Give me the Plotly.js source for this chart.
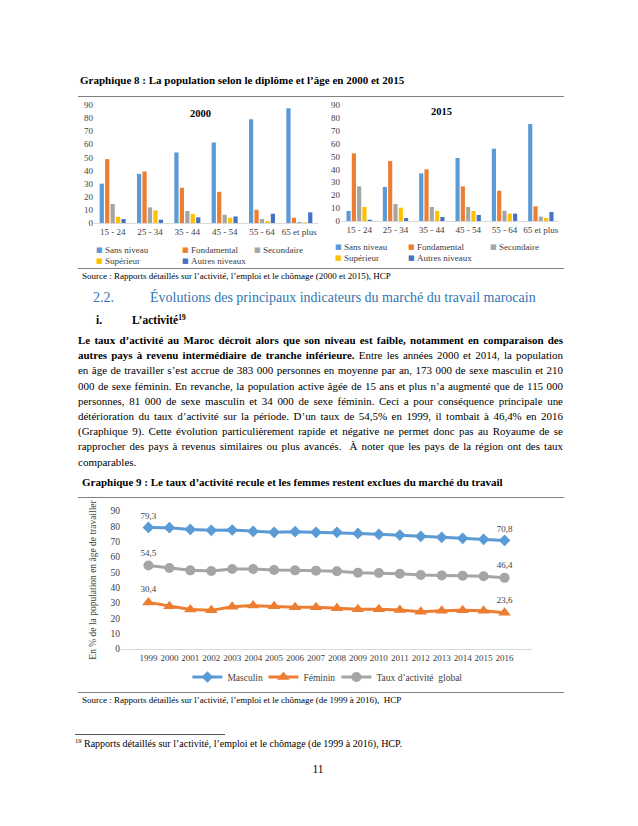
<!DOCTYPE html>
<html><head><meta charset="utf-8">
<script src="https://cdn.plot.ly/plotly-3.0.1.min.js"></script>
<style>
html,body{margin:0;padding:0;background:#fff}
body{width:638px;height:826px;position:relative;overflow:hidden;font-family:"Liberation Serif","Times New Roman",serif;color:#000}
.abs{position:absolute;white-space:nowrap}
.rule{position:absolute;height:0;border-top:1px solid #808080}
.pl{position:absolute;left:78px;width:485px;height:15px;line-height:15px;font-size:11px;text-align:justify;text-align-last:justify;white-space:normal}
.pl.last{text-align-last:left}
.chart{position:absolute}
sup{font-size:65%;line-height:0;vertical-align:4px}
</style></head>
<body>
<div class="abs" style="left:80px;top:72px;line-height:16px;font-size:11px;font-weight:bold">Graphique 8 : La population selon le diplôme et l’âge en 2000 et 2015</div>
<div class="rule" style="left:78px;top:96px;width:486px"></div>
<div id="c2000" class="chart" style="left:60px;top:96px;width:262px;height:172px"></div>
<div id="c2015" class="chart" style="left:322px;top:96px;width:250px;height:172px"></div>
<div class="rule" style="left:78px;top:268px;width:486px"></div>
<div class="abs" style="left:82px;top:270px;line-height:12px;font-size:9px">Source : Rapports détaillés sur l’activité, l’emploi et le chômage (2000 et 2015), HCP</div>

<div class="abs" style="left:93px;top:290px;line-height:16px;font-size:14px;color:#3274B4">2.2.</div>
<div class="abs" style="left:150px;top:290px;line-height:16px;font-size:14px;color:#3274B4">Évolutions des principaux indicateurs du marché du travail marocain</div>
<div class="abs" style="left:96px;top:312px;line-height:16px;font-size:11.5px;font-weight:bold">i.</div>
<div class="abs" style="left:132px;top:312px;line-height:16px;font-size:11.5px;font-weight:bold">L’activité<sup>19</sup></div>

<div class="pl" style="top:333px"><b>Le taux d’activité au Maroc décroit alors que son niveau est faible, notamment en comparaison des</b></div>
<div class="pl" style="top:348.2px"><b>autres pays à revenu intermédiaire de tranche inférieure.</b> Entre les années 2000 et 2014, la population</div>
<div class="pl" style="top:363.4px">en âge de travailler s’est accrue de 383 000 personnes en moyenne par an, 173 000 de sexe masculin et 210</div>
<div class="pl" style="top:378.6px">000 de sexe féminin. En revanche, la population active âgée de 15 ans et plus n’a augmenté que de 115 000</div>
<div class="pl" style="top:393.8px">personnes, 81 000 de sexe masculin et 34 000 de sexe féminin. Ceci a pour conséquence principale une</div>
<div class="pl" style="top:409px">détérioration du taux d’activité sur la période. D’un taux de 54,5% en 1999, il tombait à 46,4% en 2016</div>
<div class="pl" style="top:424.2px">(Graphique 9). Cette évolution particulièrement rapide et négative ne permet donc pas au Royaume de se</div>
<div class="pl" style="top:439.4px">rapprocher des pays à revenus similaires ou plus avancés.&nbsp; À noter que les pays de la région ont des taux</div>
<div class="pl last" style="top:454.6px">comparables.</div>

<div class="abs" style="left:82px;top:474px;line-height:16px;font-size:11px;font-weight:bold">Graphique 9 : Le taux d’activité recule et les femmes restent exclues du marché du travail</div>
<div class="rule" style="left:78px;top:497px;width:486px"></div>
<div id="c9" class="chart" style="left:60px;top:497px;width:520px;height:195px"></div>
<div class="rule" style="left:78px;top:692px;width:486px"></div>
<div class="abs" style="left:82px;top:694px;line-height:12px;font-size:9px">Source : Rapports détaillés sur l’activité, l’emploi et le chômage (de 1999 à 2016),&nbsp; HCP</div>

<div class="rule" style="left:75px;top:734px;width:150px;border-top-color:#555"></div>
<div class="abs" style="left:75px;top:737px;line-height:14px;font-size:10px"><sup>19</sup> Rapports détaillés sur l’activité, l’emploi et le chômage (de 1999 à 2016), HCP.</div>
<div class="abs" style="left:306px;top:761px;width:24px;text-align:center;line-height:16px;font-size:11.5px">11</div>

<script>
// ---------- DATA ----------
const ageGroups = ['15 - 24', '25 - 34', '35 - 44', '45 - 54', '55 - 64', '65 et plus'];
const levels = ['Sans niveau', 'Fondamental', 'Secondaire', 'Supérieur', 'Autres niveaux'];

const sansNiveau2000  = [30.0, 37.5, 53.8, 61.4, 79.1, 87.5];
const fondamental2000 = [48.7, 39.3, 26.9, 23.8, 10.1, 4.0];
const secondaire2000  = [14.5, 11.9, 9.1, 6.3, 3.0, 0.8];
const superieur2000   = [4.8, 9.6, 6.8, 4.0, 1.5, 0.5];
const autres2000      = [3.0, 2.5, 4.3, 5.0, 7.1, 8.1];

const sansNiveau2015  = [7.8, 26.4, 37.0, 48.9, 56.1, 75.3];
const fondamental2015 = [52.5, 46.5, 40.1, 26.9, 23.5, 11.4];
const secondaire2015  = [26.9, 13.2, 10.9, 10.9, 8.0, 3.4];
const superieur2015   = [10.9, 10.3, 7.8, 7.8, 5.7, 2.3];
const autres2015      = [1.0, 2.3, 3.1, 4.7, 5.7, 7.0];

const years = ['1999','2000','2001','2002','2003','2004','2005','2006','2007','2008','2009','2010','2011','2012','2013','2014','2015','2016'];
const masculin = [79.3, 79.1, 78.0, 77.4, 77.6, 76.7, 76.1, 76.5, 76.1, 76.1, 75.4, 74.8, 74.3, 73.5, 72.8, 72.2, 71.5, 70.8];
const feminin  = [30.4, 27.8, 25.7, 25.2, 27.6, 28.3, 27.8, 27.2, 27.2, 26.5, 25.9, 25.9, 25.4, 24.3, 25.0, 25.2, 25.0, 23.6];
const global   = [54.5, 52.8, 51.3, 50.9, 52.2, 52.2, 51.5, 51.3, 51.1, 50.7, 49.8, 49.6, 49.1, 48.3, 48.0, 47.8, 47.4, 46.4];
const seriesNames9 = ['Masculin', 'Féminin', 'Taux d’activité  global'];
const yTitle9 = 'En % de la population en âge de travailler';

// ---------- STYLE ----------
const levelColors = ['#5B9BD5', '#ED7D31', '#A5A5A5', '#FFC000', '#4472C4'];
const FONT = "'Liberation Serif', 'Times New Roman', serif";
const TXT = '#404040';
const cfg = {staticPlot: true, displayModeBar: false};

function barChart(id, title, seriesList, geom, legendGeom) {
  const traces = seriesList.map((vals, i) => ({
    type: 'bar', x: ageGroups, y: vals, name: levels[i],
    marker: {color: levelColors[i]}, showlegend: false
  }));
  const pw = geom.w - geom.l - geom.r, ph = geom.h - geom.t - geom.b;
  const px = p => (p - geom.left - geom.l) / pw;
  const py = p => 1 - (p - geom.top - geom.t) / ph;
  const ann = [{
    text: '<b>' + title + '</b>', xref: 'paper', yref: 'paper',
    x: px(geom.titleX), y: py(geom.titleY), showarrow: false,
    font: {family: FONT, size: 10.5, color: '#000'}, xanchor: 'center', yanchor: 'middle'
  }];
  levels.forEach((name, i) => {
    const pos = legendGeom[i];
    ann.push({text: '■', xref: 'paper', yref: 'paper', x: px(pos[0]), y: py(pos[2]),
      showarrow: false, xanchor: 'center', yanchor: 'middle',
      font: {family: 'DejaVu Sans', size: 7, color: levelColors[i]}});
    ann.push({text: name, xref: 'paper', yref: 'paper', x: px(pos[1]), y: py(pos[2]),
      showarrow: false, xanchor: 'left', yanchor: 'middle', borderpad: 0,
      font: {family: FONT, size: 9, color: TXT}});
  });
  const layout = {
    width: geom.w, height: geom.h,
    margin: {l: geom.l, r: geom.r, t: geom.t, b: geom.b, pad: 0},
    paper_bgcolor: 'rgba(0,0,0,0)', plot_bgcolor: 'rgba(0,0,0,0)',
    barmode: 'group', bargap: 0.27, bargroupgap: 0.22,
    font: {family: FONT, size: 9, color: TXT},
    xaxis: {type: 'category', showline: true, linecolor: '#D9D9D9', linewidth: 1,
      ticks: '', showgrid: false, zeroline: false, tickfont: {family: FONT, size: 9, color: TXT}},
    yaxis: {range: [0, 90], dtick: 10, tick0: 0, showgrid: false, zeroline: false,
      showline: false, ticks: '', tickfont: {family: FONT, size: 9, color: TXT}},
    showlegend: false,
    annotations: ann
  };
  Plotly.newPlot(id, traces, layout, cfg);
}

barChart('c2000', '2000',
  [sansNiveau2000, fondamental2000, secondaire2000, superieur2000, autres2000],
  {left: 60, top: 96, w: 262, h: 172, l: 34, r: 4, t: 9, b: 45, titleX: 200, titleY: 113},
  [[99, 103.5, 250], [185, 189.5, 250], [257, 261.5, 250], [99, 103.5, 261], [185, 189.5, 261]]);

barChart('c2015', '2015',
  [sansNiveau2015, fondamental2015, secondaire2015, superieur2015, autres2015],
  {left: 322, top: 96, w: 250, h: 172, l: 19, r: 13, t: 9, b: 47, titleX: 441, titleY: 112},
  [[338, 342.5, 247], [411, 415.5, 247], [493, 497.5, 247], [338, 342.5, 258], [411, 415.5, 258]]);

// ---------- CHART 9 ----------
const fmt = v => v.toFixed(1).replace('.', ',');
const endLabels = arr => arr.map((v, i) => (i === 0 || i === arr.length - 1) ? fmt(v) : '');
const lineColors = ['#5B9BD5', '#ED7D31', '#A5A5A5'];
const symbols = ['diamond', 'triangle-up', 'circle'];
const sizes = [9, 11, 10];
const legendWidths = [31, 28, 92];
const traces9 = [masculin, feminin, global].map((vals, i) => ({
  type: 'scatter', mode: 'lines+markers+text', x: years, y: vals, name: seriesNames9[i],
  line: {color: lineColors[i], width: 3},
  marker: {color: lineColors[i], symbol: symbols[i], size: sizes[i]},
  text: endLabels(vals), textposition: 'top center', legendwidth: legendWidths[i],
  textfont: {family: FONT, size: 9, color: TXT}, cliponaxis: false
}));
Plotly.newPlot('c9', traces9, {
  width: 520, height: 195,
  margin: {l: 61, r: 48, t: 14, b: 43, pad: 0},
  paper_bgcolor: 'rgba(0,0,0,0)', plot_bgcolor: 'rgba(0,0,0,0)',
  separators: ', ',
  font: {family: FONT, size: 9, color: TXT},
  xaxis: {type: 'category', showline: true, linecolor: '#D9D9D9', linewidth: 1, ticks: '',
    showgrid: false, zeroline: false, tickfont: {family: FONT, size: 9, color: TXT}},
  yaxis: {range: [0, 90], dtick: 10, tick0: 0, showgrid: false, zeroline: false, showline: false,
    ticks: '', tickfont: {family: FONT, size: 9.5, color: TXT},
    title: {text: yTitle9, font: {family: FONT, size: 9.5, color: TXT}, standoff: 12}},
  showlegend: true,
  legend: {orientation: 'h', xref: 'container', yref: 'container', x: 0.245, xanchor: 'left',
    y: 0.077, yanchor: 'middle', itemwidth: 30,
    font: {family: FONT, size: 9.5, color: TXT}, bgcolor: 'rgba(0,0,0,0)'}
}, cfg);

// fit paragraph lines so each stays on one justified line
document.querySelectorAll('.pl').forEach(d => {
  const s = document.createElement('span');
  s.style.whiteSpace = 'nowrap';
  while (d.firstChild) s.appendChild(d.firstChild);
  d.appendChild(s);
  const w = s.getBoundingClientRect().width;
  if (w > 484) d.style.fontSize = (11 * 484 / w).toFixed(2) + 'px';
  s.style.whiteSpace = 'normal';
});
</script>
</body></html>
